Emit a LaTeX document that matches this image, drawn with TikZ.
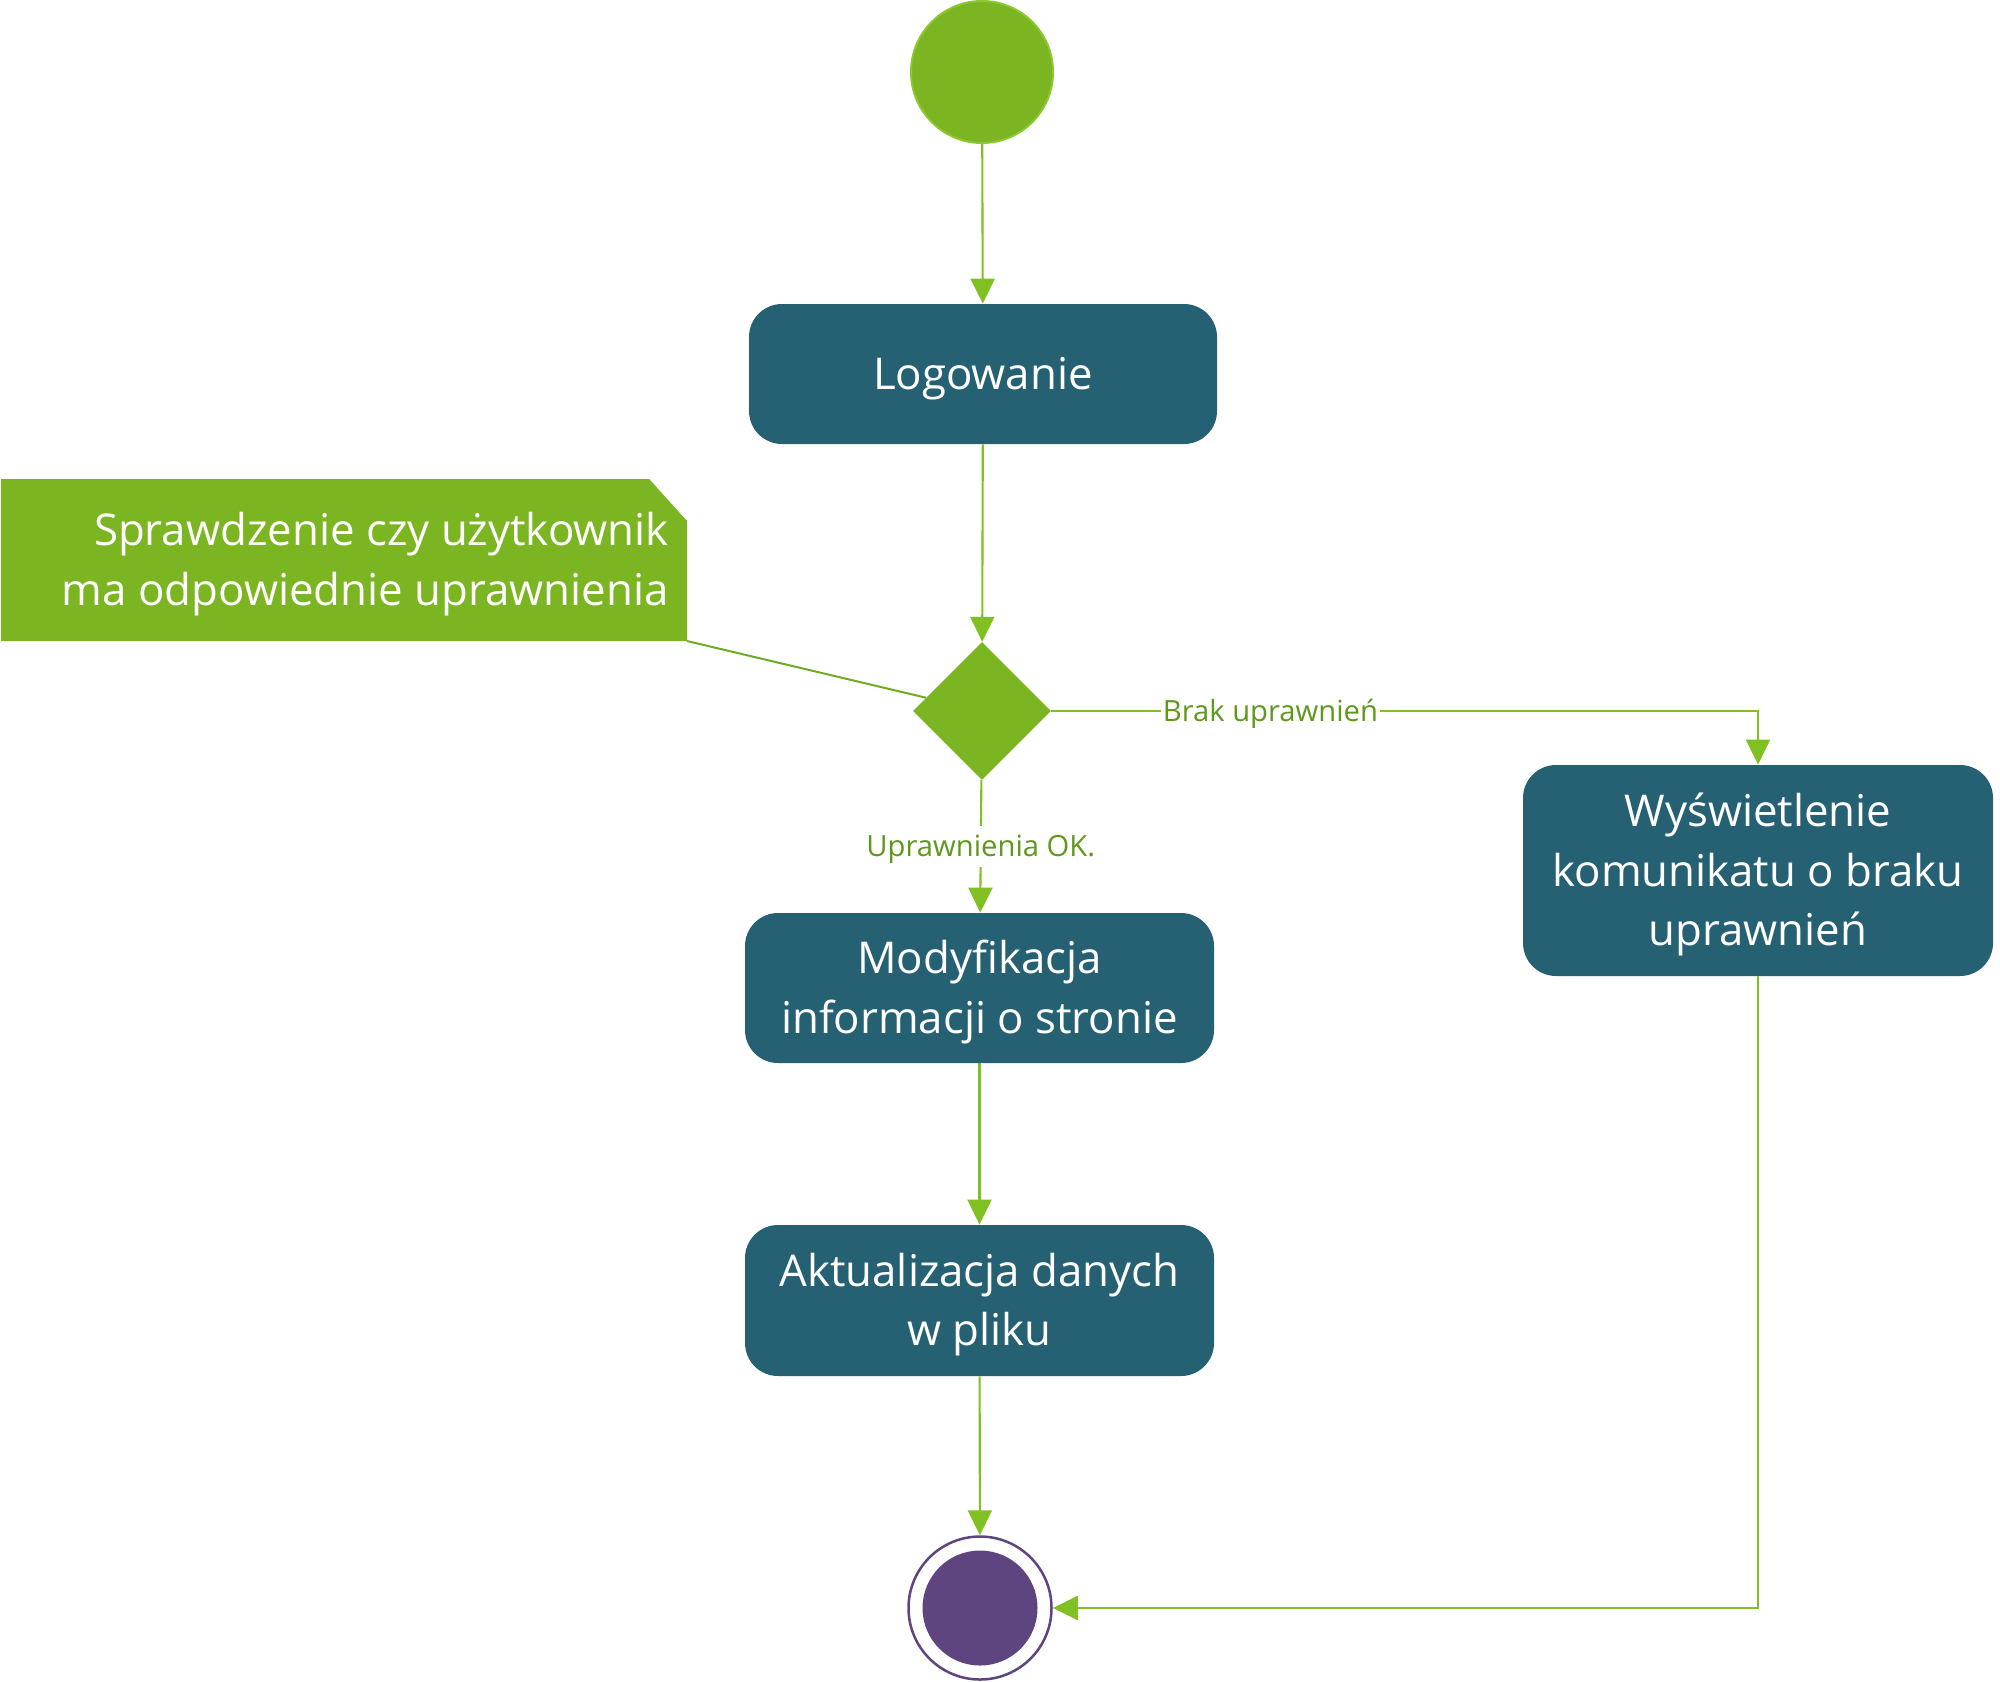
\documentclass[tikz,border=0pt]{standalone}
\usepackage{fontspec}
\setmainfont{Open Sans}
\usetikzlibrary{shapes.geometric,arrows.meta}
\definecolor{boxc}{RGB}{37,96,115}
\definecolor{greenc}{RGB}{123,181,33}
\definecolor{greenedge}{RGB}{140,200,50}
\definecolor{connc}{RGB}{128,192,34}
\definecolor{lblc}{RGB}{96,152,28}
\definecolor{notelinec}{RGB}{110,172,36}
\definecolor{purplec}{RGB}{94,69,128}
\newcommand\actfont{\fontsize{21.9}{29.75}\selectfont}
\newcommand\lblfont{\fontsize{14.6}{17}\selectfont}
\begin{document}
\begin{tikzpicture}[x=0.5pt,y=-0.5pt,
  act/.style={rectangle, rounded corners=16.5pt, fill=boxc, draw=none, text=white,
    font=\actfont, align=center, inner sep=0pt, text height=15.6pt, text depth=0pt},
  twolines/.style={text height=45.35pt},
  threelines/.style={text height=75.1pt},
  conn/.style={draw=connc, line width=1.05pt, -{Triangle[length=12.5pt,width=12pt]}},
  lbl/.style={font=\lblfont, text=lblc, fill=white, inner xsep=1pt, inner ysep=5pt,
    text height=10.4pt, text depth=0pt},
  notetxt/.style={font=\actfont, text=white, align=right, inner sep=0pt,
    text height=45.35pt, text depth=0pt}
]
\useasboundingbox (0,0) rectangle (2000,1681);

% note
\fill[greenc] (1,479) -- (650,479) -- (687,520) -- (687,641) -- (1,641) -- cycle;
\draw[white, line width=0.5pt] (650,479) -- (687,520);
\node[notetxt, anchor=north east] (notetext) at (669,514.3)
  {Sprawdzenie czy użytkownik\\ma odpowiednie uprawnienia};
\coordinate (notecorner) at (687,641);

% nodes
\node[circle, fill=greenc, draw=greenedge, line width=1pt, minimum size=71pt, inner sep=0pt] (start) at (982,72) {};
\node[act, minimum width=234pt, minimum height=70pt] (login) at (983,374) {Logowanie};
\node[diamond, aspect=1, fill=greenc, minimum width=69pt, minimum height=69pt, inner sep=0pt] (dec) at (982,711) {};
\node[act, twolines, minimum width=234.5pt, minimum height=75pt] (mod) at (979.5,988) {Modyfikacja\\informacji o stronie};
\node[act, twolines, minimum width=234.5pt, minimum height=75.5pt] (akt) at (979.5,1300.5) {Aktualizacja danych\\w pliku};
\node[act, threelines, minimum width=235pt, minimum height=105.5pt] (wys) at (1758,870.5) {Wyświetlenie\\komunikatu o braku\\uprawnień};
\node[circle, draw=purplec, line width=1.25pt, fill=white, minimum size=71.5pt, inner sep=0pt] (end) at (980,1608) {};
\node[circle, fill=purplec, minimum size=57.5pt, inner sep=0pt] (endin) at (980,1608) {};

% connectors
\draw[notelinec, line width=1pt] (notecorner) -- (dec);
\draw[conn] (start) -- (login);
\draw[conn] (login) -- (dec);
\draw[conn] (dec) -| node[lbl, pos=0.155] {Brak uprawnień} (wys);
\draw[conn] (dec) -- node[lbl] {Uprawnienia OK.} (mod);
\draw[conn] (mod) -- (akt);
\draw[conn] (akt) -- (end);
\draw[conn] (wys) |- (end);
\end{tikzpicture}
\end{document}
